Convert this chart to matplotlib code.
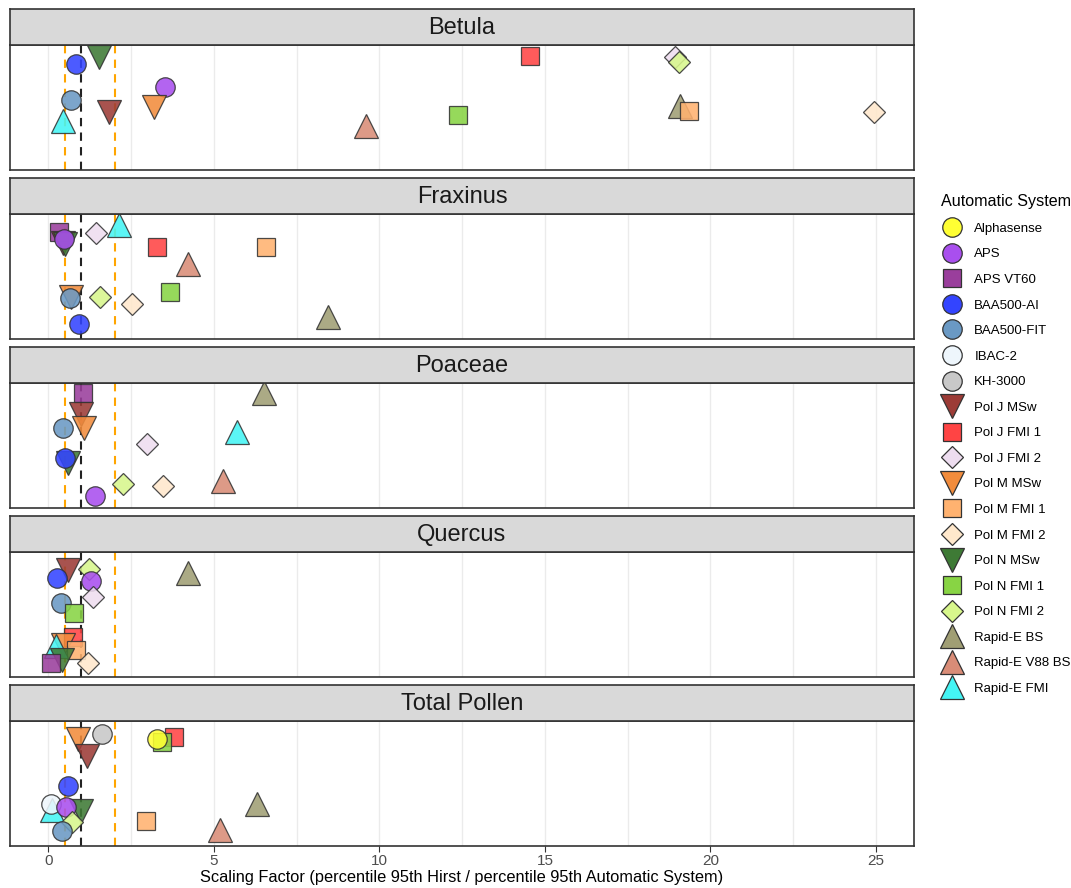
import numpy as np
import matplotlib
matplotlib.use("Agg")
import matplotlib.pyplot as plt
from matplotlib.lines import Line2D

plt.rcParams['font.family'] = ['Liberation Sans', 'DejaVu Sans']

# ── Automatic systems: colour + marker ─────────────────────
systems = ["Alphasense", "APS", "APS VT60", "BAA500-AI", "BAA500-FIT", "IBAC-2",
           "KH-3000", "Pol J MSw", "Pol J FMI 1", "Pol J FMI 2", "Pol M MSw",
           "Pol M FMI 1", "Pol M FMI 2", "Pol N MSw", "Pol N FMI 1", "Pol N FMI 2",
           "Rapid-E BS", "Rapid-E V88 BS", "Rapid-E FMI"]
colors = ["#FFFF33", "#A94FEE", "#9A3E9C", "#3344FF", "#6A99C4", "#EEF6FC",
          "#C8C8C8", "#9C3B36", "#FF4444", "#EEDDF0", "#F28C3C",
          "#FFB270", "#FFE8CC", "#3E7A35", "#88D444", "#D8F78C",
          "#A09E74", "#D98C77", "#44F4F4"]
markers = ["o", "o", "s", "o", "o", "o",
           "o", "v", "s", "D", "v",
           "s", "D", "v", "s", "D",
           "^", "^", "^"]
msize = {"o": 14, "s": 12.5, "D": 11.5, "v": 17, "^": 17}

# ── Scaling factors per pollen type (x) and jitter position (y) ──
pollen = ["Betula", "Fraxinus", "Poaceae", "Quercus", "Total Pollen"]

betula_sys = ["BAA500-AI", "Pol N MSw", "APS", "BAA500-FIT", "Pol J MSw", "Pol M MSw",
              "Rapid-E FMI", "Rapid-E V88 BS", "Pol N FMI 1", "Pol J FMI 1", "Pol J FMI 2",
              "Pol N FMI 2", "Rapid-E BS", "Pol M FMI 1", "Pol M FMI 2"]
betula_x = [0.84, 1.52, 3.52, 0.69, 1.83, 3.20, 0.45, 9.58, 12.36, 14.55, 18.94,
            19.06, 19.08, 19.35, 24.95]
betula_y = [0.85, 0.90, 0.66, 0.56, 0.46, 0.50, 0.39, 0.35, 0.44, 0.91, 0.90,
            0.86, 0.51, 0.47, 0.46]

fraxinus_sys = ["APS VT60", "Pol J MSw", "Pol N MSw", "APS", "Pol J FMI 2", "Rapid-E FMI",
                "Pol J FMI 1", "Pol M FMI 1", "Rapid-E V88 BS", "Pol M MSw", "BAA500-FIT",
                "Pol N FMI 2", "Pol M FMI 2", "Pol N FMI 1", "BAA500-AI", "Rapid-E BS"]
fraxinus_x = [0.31, 0.45, 0.50, 0.47, 1.44, 2.14, 3.27, 6.56, 4.23, 0.67, 0.66,
              1.56, 2.53, 3.66, 0.92, 8.44]
fraxinus_y = [0.86, 0.77, 0.76, 0.80, 0.85, 0.91, 0.74, 0.74, 0.60, 0.34, 0.325,
              0.34, 0.28, 0.38, 0.12, 0.18]

poaceae_sys = ["APS VT60", "Rapid-E BS", "Pol J MSw", "BAA500-FIT", "Pol M MSw",
               "Rapid-E FMI", "Pol J FMI 2", "Pol N MSw", "BAA500-AI", "Pol N FMI 2",
               "Pol M FMI 2", "Rapid-E V88 BS", "APS"]
poaceae_x = [1.06, 6.52, 0.98, 0.45, 1.08, 5.69, 2.97, 0.60, 0.51, 2.26, 3.46, 5.27, 1.41]
poaceae_y = [0.92, 0.92, 0.75, 0.64, 0.64, 0.61, 0.515, 0.36, 0.40, 0.19, 0.18, 0.22, 0.10]

quercus_sys = ["Pol J MSw", "Pol N FMI 2", "BAA500-AI", "APS", "Rapid-E BS", "Pol J FMI 2",
               "BAA500-FIT", "Pol N FMI 1", "Pol J FMI 1", "Pol M MSw", "Pol M FMI 1",
               "Rapid-E FMI", "Pol N MSw", "APS VT60", "Pol M FMI 2"]
quercus_x = [0.58, 1.24, 0.27, 1.28, 4.23, 1.36, 0.37, 0.78, 0.74, 0.45, 0.84,
             0.23, 0.40, 0.08, 1.21]
quercus_y = [0.86, 0.865, 0.79, 0.77, 0.83, 0.64, 0.595, 0.51, 0.32, 0.26, 0.22,
             0.245, 0.14, 0.11, 0.11]

total_sys = ["Pol M MSw", "KH-3000", "Pol J FMI 1", "Pol N FMI 1", "Alphasense", "Pol J MSw",
             "BAA500-AI", "Rapid-E FMI", "IBAC-2", "Pol N MSw", "APS", "Rapid-E BS",
             "Pol M FMI 1", "Rapid-E V88 BS", "Pol N FMI 2", "BAA500-FIT"]
total_x = [0.88, 1.63, 3.78, 3.43, 3.27, 1.18, 0.59, 0.10, 0.08, 0.98, 0.53, 6.30,
           2.94, 5.19, 0.71, 0.40]
total_y = [0.86, 0.90, 0.875, 0.83, 0.86, 0.72, 0.48, 0.29, 0.34, 0.28, 0.31, 0.34,
           0.20, 0.13, 0.19, 0.12]

panels = [(betula_sys, betula_x, betula_y),
          (fraxinus_sys, fraxinus_x, fraxinus_y),
          (poaceae_sys, poaceae_x, poaceae_y),
          (quercus_sys, quercus_x, quercus_y),
          (total_sys, total_x, total_y)]

# reference lines (ratio = 1, and the 0.5 / 2 band)
ref_line = 1.0
band_lines = [0.5, 2.0]

W, H = 1071, 888
fig = plt.figure(figsize=(W / 100, H / 100), dpi=100)

left_px, right_px = 10, 914
panel_h, strip_h, pitch = 125, 36, 169
first_top = 45
xlim = (-1.16, 26.15)

for i, (name, (sys_list, xs, ys)) in enumerate(zip(pollen, panels)):
    top = first_top + pitch * i
    ax = fig.add_axes([left_px / W, 1 - (top + panel_h) / H,
                       (right_px - left_px) / W, panel_h / H])
    ax.set_xlim(*xlim)
    ax.set_ylim(0, 1)
    ax.set_xticks([0, 5, 10, 15, 20, 25])
    ax.set_xticks([2.5, 7.5, 12.5, 17.5, 22.5], minor=True)
    ax.grid(True, axis="x", which="both", color="#EBEBEB", lw=1.0, zorder=0)
    ax.set_yticks([])
    for s in ax.spines.values():
        s.set_color("#333333")
        s.set_linewidth(1.2)
    ax.tick_params(axis="x", which="minor", length=0)
    ax.tick_params(axis="x", which="major", length=4, color="#333333",
                   labelsize=11, labelcolor="#4D4D4D", pad=2)
    if i < len(pollen) - 1:
        ax.tick_params(axis="x", which="major", labelbottom=False, length=0)

    for v in band_lines:
        ax.axvline(v, color="#FFA500", ls=(0, (4, 3)), lw=1.5, zorder=1)
    ax.axvline(ref_line, color="#222222", ls=(0, (4, 3)), lw=1.5, zorder=1)

    for s, x, y in zip(sys_list, xs, ys):
        k = systems.index(s)
        m = markers[k]
        ax.plot(x, y, marker=m, ms=msize[m], mfc=colors[k], mec="#333333",
                mew=0.9, alpha=0.88, ls="none", zorder=3)

    # facet strip
    sax = fig.add_axes([left_px / W, 1 - top / H, (right_px - left_px) / W, strip_h / H])
    sax.set_facecolor("#D9D9D9")
    sax.set_xticks([])
    sax.set_yticks([])
    for s in sax.spines.values():
        s.set_color("#333333")
        s.set_linewidth(1.2)
    sax.text(0.5, 0.47, name, ha="center", va="center", fontsize=17,
             color="#1A1A1A", transform=sax.transAxes)

fig.text((left_px + right_px) / 2 / W, 1 - 877 / H,
         "Scaling Factor (percentile 95th Hirst / percentile 95th Automatic System)",
         ha="center", va="center", fontsize=11.8, color="black")

handles = [Line2D([], [], marker=markers[k], ms=msize[markers[k]], mfc=colors[k],
                  mec="#333333", mew=0.9, ls="none") for k in range(len(systems))]
leg = fig.legend(handles, systems, loc="upper left", bbox_to_anchor=(936 / W, 1 - 189 / H),
                 frameon=False, fontsize=9.5, title="Automatic System",
                 title_fontsize=11.6, labelspacing=1.01, handletextpad=0.9,
                 borderaxespad=0, handlelength=1.6)
leg._legend_box.align = "left"

fig.savefig("out.png", dpi=100)
